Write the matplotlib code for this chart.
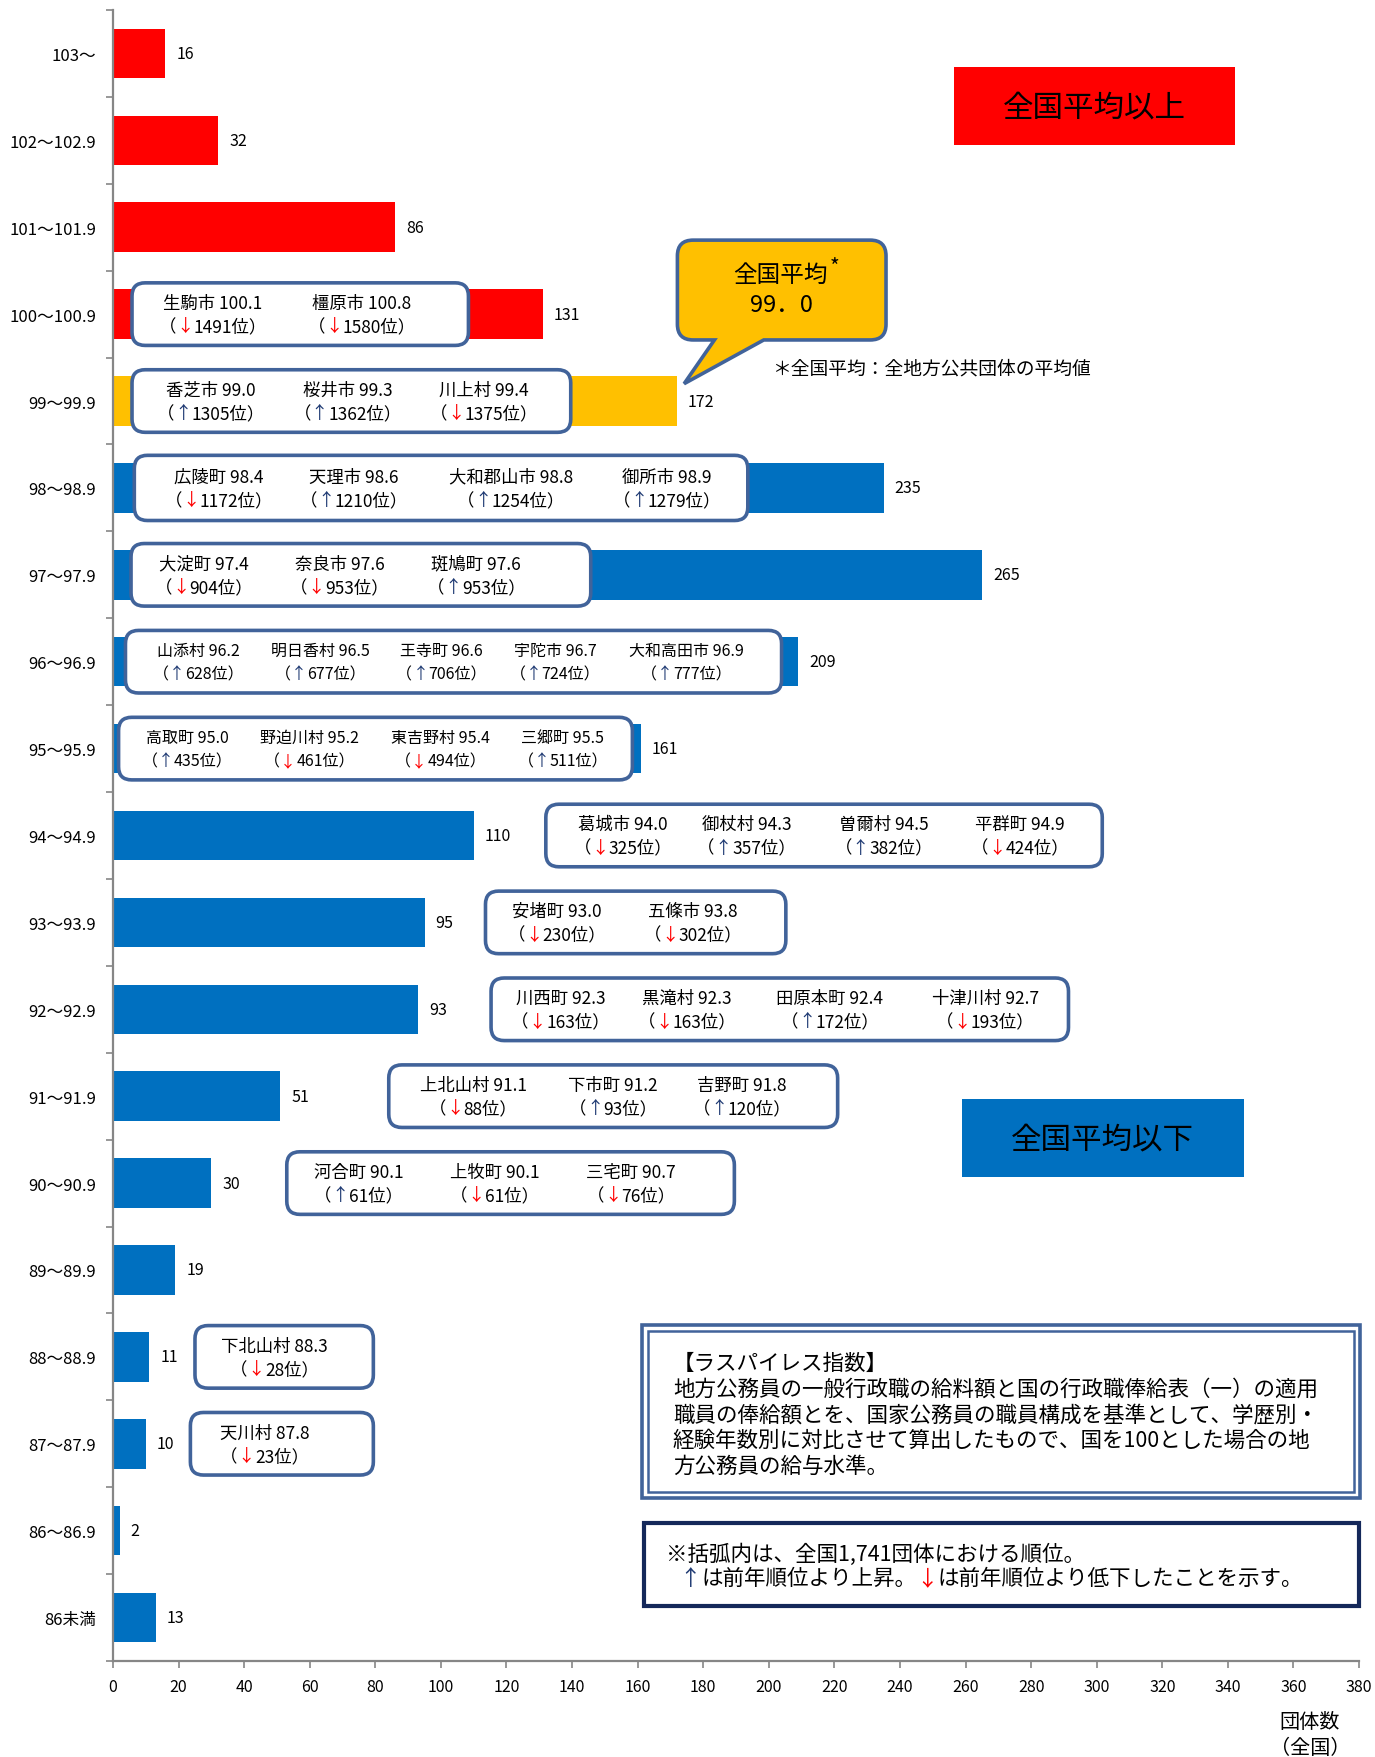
import matplotlib
matplotlib.use("Agg")
import matplotlib.pyplot as plt
from matplotlib.patches import FancyBboxPatch, Rectangle, PathPatch
from matplotlib.path import Path
from matplotlib.transforms import Affine2D
import numpy as np

plt.rcParams['font.family'] = ['Noto Sans CJK JP', 'DejaVu Sans']

# ---------------- data ----------------
categories = ["103～", "102～102.9", "101～101.9", "100～100.9", "99～99.9",
              "98～98.9", "97～97.9", "96～96.9", "95～95.9", "94～94.9",
              "93～93.9", "92～92.9", "91～91.9", "90～90.9", "89～89.9",
              "88～88.9", "87～87.9", "86～86.9", "86未満"]
counts = [16, 32, 86, 131, 172, 235, 265, 209, 161, 110, 95, 93, 51, 30, 19, 11, 10, 2, 13]
group = ["above"] * 4 + ["average"] + ["below"] * 14
x_ticks = list(range(0, 381, 20))

entry_row = [3, 3,
             4, 4, 4,
             5, 5, 5, 5,
             6, 6, 6,
             7, 7, 7, 7, 7,
             8, 8, 8, 8,
             9, 9, 9, 9,
             10, 10,
             11, 11, 11, 11,
             12, 12, 12,
             13, 13, 13,
             15,
             16]
entry_name = ["生駒市", "橿原市",
              "香芝市", "桜井市", "川上村",
              "広陵町", "天理市", "大和郡山市", "御所市",
              "大淀町", "奈良市", "斑鳩町",
              "山添村", "明日香村", "王寺町", "宇陀市", "大和高田市",
              "高取町", "野迫川村", "東吉野村", "三郷町",
              "葛城市", "御杖村", "曽爾村", "平群町",
              "安堵町", "五條市",
              "川西町", "黒滝村", "田原本町", "十津川村",
              "上北山村", "下市町", "吉野町",
              "河合町", "上牧町", "三宅町",
              "下北山村",
              "天川村"]
entry_score = ["100.1", "100.8",
               "99.0", "99.3", "99.4",
               "98.4", "98.6", "98.8", "98.9",
               "97.4", "97.6", "97.6",
               "96.2", "96.5", "96.6", "96.7", "96.9",
               "95.0", "95.2", "95.4", "95.5",
               "94.0", "94.3", "94.5", "94.9",
               "93.0", "93.8",
               "92.3", "92.3", "92.4", "92.7",
               "91.1", "91.2", "91.8",
               "90.1", "90.1", "90.7",
               "88.3",
               "87.8"]
entry_rank = [1491, 1580,
              1305, 1362, 1375,
              1172, 1210, 1254, 1279,
              904, 953, 953,
              628, 677, 706, 724, 777,
              435, 461, 494, 511,
              325, 357, 382, 424,
              230, 302,
              163, 163, 172, 193,
              88, 93, 120,
              61, 61, 76,
              28,
              23]
entry_dir = ["d", "d",
             "u", "u", "d",
             "d", "u", "u", "u",
             "d", "d", "u",
             "u", "u", "u", "u", "u",
             "u", "d", "d", "u",
             "d", "u", "u", "d",
             "d", "d",
             "d", "d", "u", "d",
             "d", "u", "u",
             "u", "d", "d",
             "d",
             "d"]

# ---------------- layout (positions of annotation boxes) ----------------
entry_x = [30.4, 75.9,
           29.8, 71.5, 113.2,
           32.2, 73.5, 121.4, 169.0,
           27.7, 69.1, 110.8,
           26.0, 63.3, 100.2, 134.8, 174.8,
           22.6, 59.9, 99.9, 137.2,
           155.6, 193.2, 235.0, 276.7,
           135.4, 176.8,
           136.5, 175.1, 218.6, 266.0,
           109.8, 152.5, 191.9,
           74.9, 116.3, 158.0,
           49.3,
           46.2]
box_row = [3, 4, 5, 6, 7, 8, 9, 10, 11, 12, 13, 15, 16]
box_x0 = [5.8, 5.8, 6.5, 5.5, 3.8, 1.7, 132.0, 113.6, 115.3, 84.1, 53.0, 25.0, 23.6]
box_x1 = [108.4, 139.6, 193.6, 145.7, 203.9, 158.4, 301.7, 205.2, 291.4, 221.0, 189.5, 79.4, 79.4]

color_map = {"above": "#FF0000", "average": "#FFC000", "below": "#0070C0"}
arrow_color = {"u": "#1F3A73", "d": "#FF0000"}
arrow_char = {"u": "↑", "d": "↓"}
BOX_EDGE = "#41639A"
AXIS_GRAY = "#868686"

W, H = 1375, 1758
S = W / 1226.0
fig = plt.figure(figsize=(W / 100, H / 100), dpi=100)
ax = fig.add_axes([113 / W, 1 - 1662 / H, (1359 - 113) / W, (1662 - 11) / H])

# transform: reference (shrunk) pixel coords, origin top-left
T = Affine2D().scale(S / W, -S / H).translate(0, 1) + fig.transFigure

y = np.arange(len(categories))
ax.barh(y, counts, height=0.57, color=[color_map[g] for g in group], zorder=2)
ax.set_ylim(len(categories) - 0.5, -0.5)
ax.set_xlim(0, 380)

ax.set_yticks(y)
ax.set_yticklabels(categories, fontsize=12)
ax.tick_params(axis='y', which='major', length=0, pad=12)
ax.set_yticks(np.arange(-0.5, len(categories)), minor=True)
ax.tick_params(axis='y', which='minor', length=5, color=AXIS_GRAY, width=1.2)
ax.set_xticks(x_ticks)
ax.set_xticklabels([str(v) for v in x_ticks], fontsize=11.5)
ax.tick_params(axis='x', length=5, color=AXIS_GRAY, width=1.2, pad=7)
for sp in ["top", "right"]:
    ax.spines[sp].set_visible(False)
for sp in ["left", "bottom"]:
    ax.spines[sp].set_color(AXIS_GRAY)
    ax.spines[sp].set_linewidth(1.6)

for i, v in enumerate(counts):
    ax.annotate(str(v), xy=(v, i), xytext=(8, 0), textcoords='offset points',
                ha='left', va='center', fontsize=11.5, zorder=5)

# boxes
aspect = (2.9237 / 77.5)
for r, x0, x1 in zip(box_row, box_x0, box_x1):
    hh = 0.36 if r != 5 else 0.375
    p = FancyBboxPatch((x0, r - hh), x1 - x0, 2 * hh,
                       boxstyle="round,pad=0,rounding_size=4",
                       mutation_aspect=aspect, fc="white", ec=BOX_EDGE,
                       lw=2.6, zorder=3)
    ax.add_patch(p)

groups = []


def chain(x, y0, pieces, fontsize, xycoords='data', center=True, target=ax):
    arts = []
    prev = None
    for s, c in pieces:
        if prev is None:
            t = target.annotate(s, xy=(x, y0), xycoords=xycoords, xytext=(0, 0),
                                textcoords='offset points', ha='left', va='center',
                                color=c, fontsize=fontsize, zorder=6,
                                annotation_clip=False)
        else:
            t = target.annotate(s, xy=(1, 0.5), xycoords=prev, ha='left',
                                va='center', color=c, fontsize=fontsize, zorder=6,
                                annotation_clip=False)
        arts.append(t)
        prev = t
    if center:
        groups.append(arts)
    return arts


for r, nm, sc, rk, d, ex in zip(entry_row, entry_name, entry_score, entry_rank,
                                entry_dir, entry_x):
    fs = 11.5 if r in (7, 8) else 12.5
    ax.text(ex, r - 0.13, f"{nm} {sc}", ha='center', va='center', fontsize=fs, zorder=6)
    chain(ex, r + 0.14, [("（", "black"), (arrow_char[d], arrow_color[d]),
                         (f"{rk}位）", "black")], fs)

# big labels
fig.add_artist(Rectangle((851, 61), 250, 69, transform=T, fc="#FF0000", ec="none"))
fig.text(976, 96, "全国平均以上", transform=T, ha='center', va='center', fontsize=22)
fig.add_artist(Rectangle((858, 981), 251, 69, transform=T, fc="#0070C0", ec="none"))
fig.text(983, 1016, "全国平均以下", transform=T, ha='center', va='center', fontsize=22)

# callout
x0, x1, y0, y1, rr = 604, 790, 215, 304, 14
verts = [(x0 + rr, y0), (x1 - rr, y0), (x1, y0), (x1, y0 + rr), (x1, y1 - rr),
         (x1, y1), (x1 - rr, y1), (681, y1), (610, 343), (637, y1), (x0 + rr, y1),
         (x0, y1), (x0, y1 - rr), (x0, y0 + rr), (x0, y0), (x0 + rr, y0), (x0 + rr, y0)]
codes = [Path.MOVETO, Path.LINETO, Path.CURVE3, Path.CURVE3, Path.LINETO,
         Path.CURVE3, Path.CURVE3, Path.LINETO, Path.LINETO, Path.LINETO, Path.LINETO,
         Path.CURVE3, Path.CURVE3, Path.LINETO, Path.CURVE3, Path.CURVE3, Path.CLOSEPOLY]
fig.add_artist(PathPatch(Path(verts, codes), transform=T, fc="#FFC000", ec=BOX_EDGE, lw=2.6))
fig.text(696, 246, "全国平均", transform=T, ha='center', va='center', fontsize=17)
fig.text(744, 239, "*", transform=T, ha='center', va='center', fontsize=15)
fig.text(697, 272, "99．0", transform=T, ha='center', va='center', fontsize=17)
fig.text(688, 329, "＊全国平均：全地方公共団体の平均値", transform=T, ha='left',
         va='center', fontsize=13.5)

# info box
fig.add_artist(Rectangle((572, 1182), 641, 155, transform=T, fc="none", ec=BOX_EDGE, lw=2.6))
fig.add_artist(Rectangle((578, 1188), 629, 143, transform=T, fc="none", ec=BOX_EDGE, lw=1.8))
info_lines = ["【ラスパイレス指数】",
              "地方公務員の一般行政職の給料額と国の行政職俸給表（一）の適用",
              "職員の俸給額とを、国家公務員の職員構成を基準として、学歴別・",
              "経験年数別に対比させて算出したもので、国を100とした場合の地",
              "方公務員の給与水準。"]
for k, ln in enumerate(info_lines):
    fig.text(600, 1216 + 23 * k, ln, transform=T, ha='left', va='center', fontsize=15.5)

# note box
fig.add_artist(Rectangle((574, 1359), 638, 74, transform=T, fc="none", ec="#14285A", lw=3))
fig.text(594, 1386, "※括弧内は、全国1,741団体における順位。", transform=T, ha='left',
         va='center', fontsize=15.5)
chain(606, 1408, [("↑", arrow_color["u"]), ("は前年順位より上昇。", "black"),
                  ("↓", arrow_color["d"]), ("は前年順位より低下したことを示す。", "black")],
      15.5, xycoords=T, center=False)

fig.text(1168, 1536, "団体数", transform=T, ha='center', va='center', fontsize=14.5)
fig.text(1168, 1559, "（全国）", transform=T, ha='center', va='center', fontsize=14.5)

# center the multi-colour rank lines
fig.canvas.draw()
renderer = fig.canvas.get_renderer()
for arts in groups:
    a = arts[0].get_window_extent(renderer).x0
    b = arts[-1].get_window_extent(renderer).x1
    arts[0].xyann = (-(b - a) / 2 * 72 / fig.dpi, 0)

fig.savefig("out.png", dpi=100)
